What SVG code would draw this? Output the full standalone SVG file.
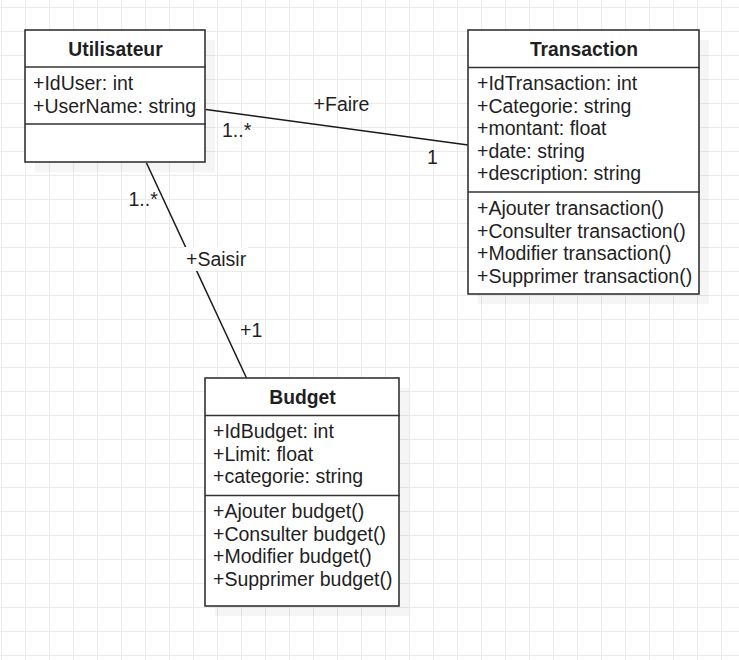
<svg xmlns="http://www.w3.org/2000/svg" width="739" height="660" viewBox="0 0 739 660">
<style>
  text { font-family: "Liberation Sans", Arial, sans-serif; font-size: 19.5px; fill: #1f1f1f; }
  .title { font-weight: bold; font-size: 19.3px; text-anchor: middle; }
  .box { fill: #ffffff; stroke: #333333; stroke-width: 1.6; }
  .sep { stroke: #333333; stroke-width: 1.6; }
  .shadow { fill: #000000; fill-opacity: 0.04; }
  .conn { stroke: #1a1a1a; stroke-width: 1.5; fill: none; }
</style>
<defs>
  <pattern id="grid" x="1" y="7" width="24" height="24" patternUnits="userSpaceOnUse">
    <path d="M0 0 V24 M0 0 H24" stroke="#ebebeb" stroke-width="2" fill="none"/>
  </pattern>
</defs>
<rect x="0" y="0" width="739" height="660" fill="#ffffff"/>
<rect x="0" y="0" width="739" height="660" fill="url(#grid)"/>

<g id="connectors">
  <line class="conn" x1="206" y1="109.5" x2="468" y2="145"/>
  <text x="341.5" y="111" text-anchor="middle">+Faire</text>
  <text x="222" y="137">1..*</text>
  <text x="427" y="164">1</text>

  <line class="conn" x1="146.5" y1="163" x2="246.5" y2="378"/>
  <rect x="184" y="247" width="64" height="24" fill="#ffffff"/>
  <text x="186" y="266">+Saisir</text>
  <text x="128.5" y="206">1..*</text>
  <text x="240" y="337">+1</text>
</g>

<g id="utilisateur">
  <rect class="shadow" x="35" y="40" width="180" height="132"/>
  <rect class="box" x="25" y="30" width="180" height="132"/>
  <line class="sep" x1="25" y1="67" x2="206" y2="67"/>
  <line class="sep" x1="25" y1="124" x2="206" y2="124"/>
  <text class="title" x="115.5" y="56">Utilisateur</text>
  <text x="33" y="90">+IdUser: int</text>
  <text x="33" y="112.5">+UserName: string</text>
</g>

<g id="transaction">
  <rect class="shadow" x="478" y="40" width="231" height="264"/>
  <rect class="box" x="468" y="30" width="231" height="264"/>
  <line class="sep" x1="468" y1="67.5" x2="700" y2="67.5"/>
  <line class="sep" x1="468" y1="192" x2="700" y2="192"/>
  <text class="title" x="584" y="56">Transaction</text>
  <text x="477" y="90">+IdTransaction: int</text>
  <text x="477" y="112.5">+Categorie: string</text>
  <text x="477" y="135">+montant: float</text>
  <text x="477" y="157.5">+date: string</text>
  <text x="477" y="180">+description: string</text>
  <text x="477" y="215">+Ajouter transaction()</text>
  <text x="477" y="237.5">+Consulter transaction()</text>
  <text x="477" y="260">+Modifier transaction()</text>
  <text x="477" y="282.5">+Supprimer transaction()</text>
</g>

<g id="budget">
  <rect class="shadow" x="215" y="388" width="194" height="228"/>
  <rect class="box" x="205" y="378" width="194" height="228"/>
  <line class="sep" x1="205" y1="415.5" x2="400" y2="415.5"/>
  <line class="sep" x1="205" y1="495.5" x2="400" y2="495.5"/>
  <text class="title" x="302.5" y="404">Budget</text>
  <text x="213" y="438">+IdBudget: int</text>
  <text x="213" y="460.5">+Limit: float</text>
  <text x="213" y="483">+categorie: string</text>
  <text x="213" y="518">+Ajouter budget()</text>
  <text x="213" y="540.5">+Consulter budget()</text>
  <text x="213" y="563">+Modifier budget()</text>
  <text x="213" y="585.5">+Supprimer budget()</text>
</g>
</svg>
